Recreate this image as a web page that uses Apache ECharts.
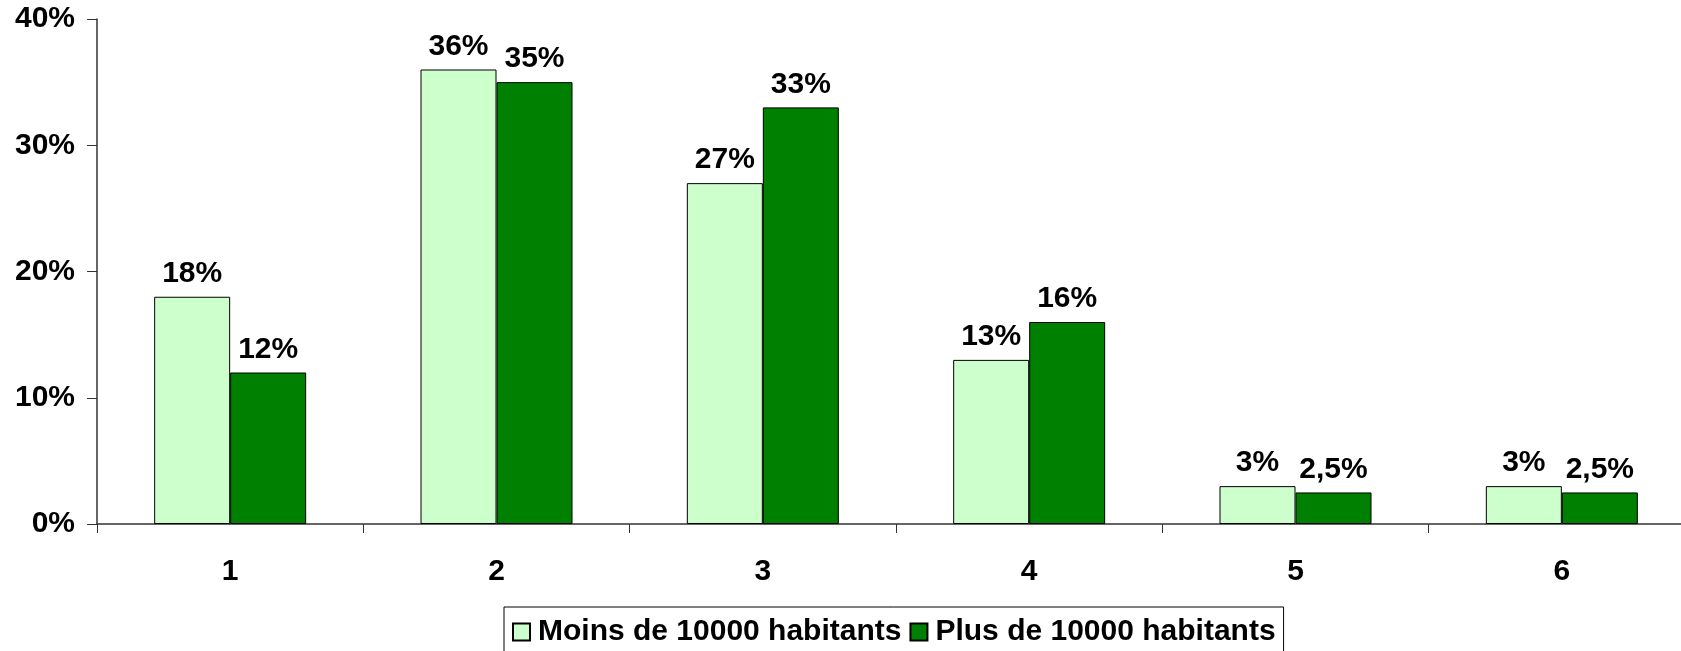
<!DOCTYPE html>
<html>
<head>
<meta charset="utf-8">
<script src="https://cdn.jsdelivr.net/npm/echarts@6/dist/echarts.min.js"></script>
<style>
html,body{margin:0;padding:0;background:#fff;overflow:hidden;}
#main{width:1695px;height:651px;}
</style>
</head>
<body>
<div id="main"></div>
<script>
var categories = ['1', '2', '3', '4', '5', '6'];
var moins = [18, 36, 27, 13, 3, 3];
var plus = [12, 35, 33, 16, 2.5, 2.5];
var seriesNames = ['Moins de 10000 habitants', 'Plus de 10000 habitants'];

function pct(v){
    return String(v).replace('.', ',') + '%';
}

var dom = document.getElementById("main");
var myChart = echarts.init(dom);
var option = null;

var font = 'Liberation Sans, Arial, sans-serif';
var fs = 30;

option = {
    animation: false,
    textStyle: { fontFamily: font },
    legend: {
        data: seriesNames,
        left: 504,
        top: 607,
        orient: 'horizontal',
        icon: 'rect',
        itemWidth: 17,
        itemHeight: 17,
        itemGap: 8,
        borderColor: '#000',
        borderWidth: 1,
        padding: [10, 8, 30, 8],
        textStyle: { fontFamily: font, fontWeight: 'bold', fontSize: fs, color: '#000', padding: [0, 0, 0, 3] }
    },
    grid: {
        left: 97,
        top: 19,
        right: 0,
        bottom: 127,
        containLabel: false
    },
    xAxis: {
        type: 'category',
        data: categories,
        axisLine: { lineStyle: { color: '#333', width: 1.5 } },
        axisTick: { show: true, length: 9, lineStyle: { color: '#333' } },
        axisLabel: { margin: 33, fontFamily: font, fontWeight: 'bold', fontSize: fs, color: '#000' }
    },
    yAxis: {
        type: 'value',
        min: 0,
        max: 40,
        interval: 10,
        splitLine: { show: false },
        axisLine: { show: true, lineStyle: { color: '#333', width: 1.5 } },
        axisTick: { show: true, length: 10, lineStyle: { color: '#333' } },
        axisLabel: { margin: 22, fontFamily: font, fontWeight: 'bold', fontSize: fs, color: '#000',
            padding: [4, 0, 0, 0],
            formatter: function(v){ return v + '%'; } }
    },
    series: [{
        name: seriesNames[0],
        type: 'bar',
        data: moins,
        barWidth: 76,
        barGap: '0%',
        itemStyle: { color: '#CCFFCC', borderColor: '#000', borderWidth: 1 },
        label: { show: true, position: 'top', distance: 8, fontFamily: font, fontWeight: 'bold', fontSize: fs, color: '#000',
            formatter: function(p){ return pct(p.value); } }
    }, {
        name: seriesNames[1],
        type: 'bar',
        data: plus,
        barWidth: 76,
        barGap: '0%',
        itemStyle: { color: '#008000', borderColor: '#000', borderWidth: 1 },
        label: { show: true, position: 'top', distance: 8, fontFamily: font, fontWeight: 'bold', fontSize: fs, color: '#000',
            formatter: function(p){ return pct(p.value); } }
    }]
};

if (option && typeof option === "object") {
    myChart.setOption(option, true);
}
</script>
</body>
</html>
